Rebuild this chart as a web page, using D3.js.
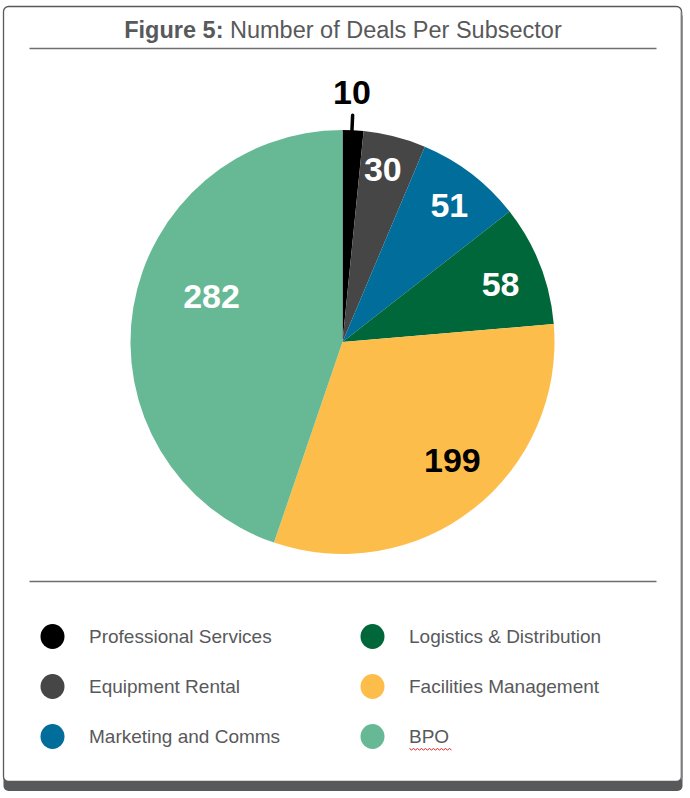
<!DOCTYPE html>
<html>
<head>
<meta charset="utf-8">
<script src="https://cdn.jsdelivr.net/npm/d3@7"></script>
<style>
  html, body { margin: 0; padding: 0; background: #ffffff; }
  svg { display: block; }
  text { font-family: "Liberation Sans", Arial, Helvetica, sans-serif; }
</style>
</head>
<body>
<svg id="chart" width="690" height="798"></svg>
<script>
// ---- Data ----
const categories = ["Professional Services", "Equipment Rental", "Marketing and Comms",
                    "Logistics & Distribution", "Facilities Management", "BPO"];
const deals = [10, 30, 51, 58, 199, 282];
const colors = ["#000000", "#464646", "#006d9a", "#00673a", "#fdbd4a", "#66b994"];
const labelColors = ["#000000", "#ffffff", "#ffffff", "#ffffff", "#000000", "#ffffff"];
const titleBold = "Figure 5:";
const titleRest = " Number of Deals Per Subsector";

// ---- Layout config (label placement, fraction of radius and angle nudge in degrees) ----
const labelRadiusFrac = [1.18, 0.84, 0.82, 0.795, 0.76, 0.655];
const labelAngleNudge = [-0.7, -1.2, 0.5, 1.1, -5, 10];

const svg = d3.select("#chart");
const W = 690, H = 798;

// Frame with bottom shadow band
svg.append("rect").attr("x", 3.5).attr("y", 12).attr("width", 679).attr("height", 779)
  .attr("rx", 5).attr("fill", "#58595b");
svg.append("rect").attr("x", 3.5).attr("y", 6.5).attr("width", 678).attr("height", 775)
  .attr("rx", 5).attr("fill", "#ffffff").attr("stroke", "#58595b").attr("stroke-width", 1.3);
svg.append("line").attr("x1", 681.5).attr("x2", 681.5).attr("y1", 12).attr("y2", 780)
  .attr("stroke", "#7a7b7d").attr("stroke-width", 1.5);

// Title
const title = svg.append("text").attr("x", 343).attr("y", 38)
  .attr("text-anchor", "middle").attr("font-size", 23.5).attr("fill", "#58595b");
title.append("tspan").attr("font-weight", "bold").text(titleBold);
title.append("tspan").text(titleRest);

// Rules
svg.append("line").attr("x1", 29.5).attr("x2", 656.5).attr("y1", 48.5).attr("y2", 48.5)
  .attr("stroke", "#6d6e70").attr("stroke-width", 1.3);
svg.append("line").attr("x1", 29.5).attr("x2", 656.5).attr("y1", 581.5).attr("y2", 581.5)
  .attr("stroke", "#6d6e70").attr("stroke-width", 1.3);

// Pie
const cx = 342.5, cy = 342, R = 212;
const pie = d3.pie().sort(null).value(d => d);
const arcs = pie(deals);
const arcGen = d3.arc().innerRadius(0).outerRadius(R);
const g = svg.append("g").attr("transform", `translate(${cx},${cy})`);

g.selectAll("path.slice").data(arcs).enter().append("path")
  .attr("class", "slice")
  .attr("d", arcGen)
  .attr("fill", (d, i) => colors[i]);

function labelPos(d, i) {
  const mid = (d.startAngle + d.endAngle) / 2 + labelAngleNudge[i] * Math.PI / 180;
  const r = R * labelRadiusFrac[i];
  return [Math.sin(mid) * r, -Math.cos(mid) * r];
}

// Leader line for the tiny first slice
{
  const d = arcs[0];
  const a = (d.startAngle + d.endAngle) / 2 - 0.3 * Math.PI / 180;
  g.append("line")
    .attr("x1", Math.sin(a) * (R - 2)).attr("y1", -Math.cos(a) * (R - 2))
    .attr("x2", Math.sin(a) * (R + 15)).attr("y2", -Math.cos(a) * (R + 15))
    .attr("stroke", "#000").attr("stroke-width", 3.5).attr("stroke-linecap", "round");
}

g.selectAll("text.lbl").data(arcs).enter().append("text")
  .attr("class", "lbl")
  .attr("transform", (d, i) => { const p = labelPos(d, i); return `translate(${p[0]},${p[1]})`; })
  .attr("text-anchor", "middle")
  .attr("dy", "0.36em")
  .attr("font-size", 34)
  .attr("font-weight", "bold")
  .attr("fill", (d, i) => labelColors[i])
  .text(d => d.data);

// Legend
const legendCols = [52.5, 372.5];
const legendRows = [636.5, 686.5, 736.5];
const leg = svg.append("g");
categories.forEach((c, i) => {
  const col = Math.floor(i / 3), row = i % 3;
  const x = legendCols[col], y = legendRows[row];
  leg.append("ellipse").attr("cx", x).attr("cy", y).attr("rx", 12).attr("ry", 12.5)
    .attr("fill", colors[i]);
  leg.append("text").attr("x", x + 36.5).attr("y", y).attr("dy", "0.36em")
    .attr("font-size", 19).attr("fill", "#58595b").text(c);
});
// squiggly spell-check underline under "BPO"
{
  const x0 = legendCols[1] + 37, x1 = x0 + 42, y = legendRows[2] + 12;
  let dStr = `M${x0},${y}`;
  for (let x = x0, k = 0; x < x1; x += 2, k++) dStr += ` L${x + 2},${y + (k % 2 ? 0 : 1.5)}`;
  leg.append("path").attr("d", dStr).attr("fill", "none").attr("stroke", "#e02020").attr("stroke-width", 1);
}
</script>
</body>
</html>
